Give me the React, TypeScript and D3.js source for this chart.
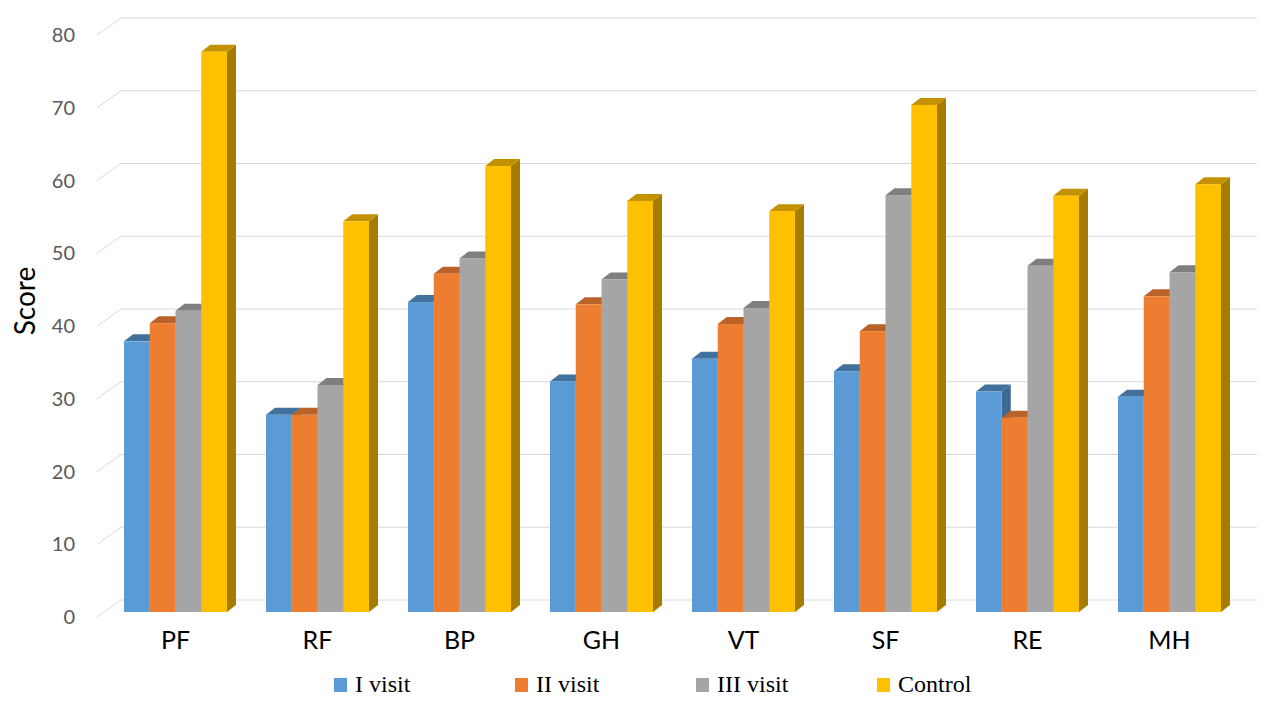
import React from "react";
import * as d3 from "d3";

const categories = ["PF", "RF", "BP", "GH", "VT", "SF", "RE", "MH"];
const seriesNames = ["I visit", "II visit", "III visit", "Control"];
const visit1 = [37.2, 27.1, 42.6, 31.7, 34.8, 33.1, 30.3, 29.6];
const visit2 = [39.7, 27.1, 46.5, 42.3, 39.6, 38.6, 26.7, 43.4];
const visit3 = [41.4, 31.2, 48.6, 45.7, 41.8, 57.3, 47.6, 46.7];
const control = [77.0, 53.7, 61.3, 56.5, 55.1, 69.7, 57.2, 58.8];
const yTicks = [0, 10, 20, 30, 40, 50, 60, 70, 80];

const seriesValues = [visit1, visit2, visit3, control];
const frontColors = ["#5B9BD5", "#ED7D31", "#A5A5A5", "#FFC000"];
const topColors = ["#41719C", "#B9622A", "#7F7F7F", "#C49200"];
const sideColors = ["#3E6A91", "#A5541F", "#6E6E6E", "#A67C00"];

const W = 1280;
const H = 720;
const frontLeft = 97;
const frontRight = 1233;
const depthX = 24;
const depthY = 17;
const barShiftX = 7.5;
const barShiftY = 5;
const barDX = 9;
const barDY = 7;

export default function App() {
  const yFront = d3.scaleLinear().domain([0, 80]).range([617, 35]);
  const yBack = (v: number) => yFront(v) - depthY;
  const yBar = (v: number) => yFront(v) - barShiftY;
  const x0 = d3.scaleBand<string>().domain(categories).range([frontLeft, frontRight]).padding(0);
  const groupW = 103;
  const x1 = d3.scaleBand<string>().domain(seriesNames).range([0, groupW]).padding(0);
  const groupStart = (c: string) => (x0(c) as number) + x0.bandwidth() / 2 + barShiftX - groupW / 2;

  const bars: React.ReactNode[] = [];
  categories.forEach((c, ci) => {
    seriesNames.forEach((s, si) => {
      const v = seriesValues[si][ci];
      const x = groupStart(c) + (x1(s) as number);
      const w = x1.bandwidth();
      const yt = yBar(v);
      const yb = yBar(0);
      const side = `M${x + w},${yt} L${x + w + barDX},${yt - barDY} L${x + w + barDX},${yb - barDY} L${x + w},${yb} Z`;
      const top = `M${x},${yt} L${x + w},${yt} L${x + w + barDX},${yt - barDY} L${x + barDX},${yt - barDY} Z`;
      bars.push(
        <g key={`${c}-${s}`}>
          <path d={side} fill={sideColors[si]} />
          <path d={top} fill={topColors[si]} />
          <rect x={x} y={yt} width={w} height={yb - yt} fill={frontColors[si]} />
        </g>
      );
    });
  });

  const legendX = [334, 515, 696, 877];

  return (
    <svg width={W} height={H} style={{ position: "absolute", left: 0, top: 0, background: "#fff" }}>
      <rect x={0} y={0} width={W} height={H} fill="#fff" />
      <g>
        {yTicks.map((t) => (
          <g key={t}>
            <line x1={frontLeft} y1={yFront(t)} x2={frontLeft + depthX} y2={yBack(t)} stroke="#D9D9D9" strokeWidth={1} />
            <line x1={frontLeft + depthX} y1={yBack(t)} x2={frontRight + depthX} y2={yBack(t)} stroke="#D9D9D9" strokeWidth={1} />
            <text
              x={75}
              y={yFront(t) + 2}
              textAnchor="end"
              dominantBaseline="middle"
              fontFamily="Lato, 'Open Sans', sans-serif"
              fontSize={20}
              fill="#595959"
            >
              {t}
            </text>
          </g>
        ))}
      </g>
      <g>{bars}</g>
      <g>
        {categories.map((c) => (
          <text
            key={c}
            x={(x0(c) as number) + x0.bandwidth() / 2 + barShiftX}
            y={649}
            textAnchor="middle"
            fontFamily="Lato, 'Open Sans', sans-serif"
            fontSize={25}
            fill="#000"
          >
            {c}
          </text>
        ))}
      </g>
      <text
        transform="translate(35,301) rotate(-90)"
        textAnchor="middle"
        fontFamily="Lato, 'Open Sans', sans-serif"
        fontSize={28}
        fill="#000"
      >
        Score
      </text>
      <g>
        {seriesNames.map((s, i) => (
          <g key={s}>
            <rect x={legendX[i]} y={678} width={13} height={14} fill={frontColors[i]} />
            <text
              x={legendX[i] + 21}
              y={692}
              fontFamily="'Liberation Serif', 'DejaVu Serif', serif"
              fontSize={24}
              fill="#000"
            >
              {s}
            </text>
          </g>
        ))}
      </g>
    </svg>
  );
}
